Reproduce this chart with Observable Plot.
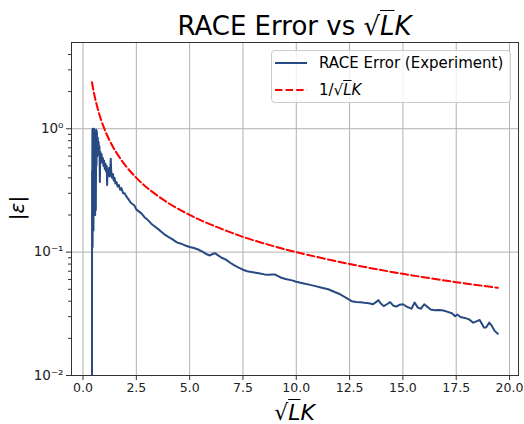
<!DOCTYPE html>
<html>
<head>
<meta charset="utf-8">
<script src="https://cdn.jsdelivr.net/npm/d3@7"></script>
<script src="https://cdn.jsdelivr.net/npm/@observablehq/plot@0.6"></script>
<style>
  body { margin: 0; background: white; font-family: "DejaVu Sans", sans-serif; }
  #wrap { position: relative; width: 524px; height: 424px; overflow: hidden; }
  .ab { position: absolute; }
  .ov { text-decoration: overline; text-decoration-thickness: 1px; }
  .it { font-style: italic; }
</style>
</head>
<body>
<div id="wrap">
  <div id="title" class="ab" style="left:71px;width:447px;top:13px;text-align:center;font-size:26px;line-height:26px;color:#000;">
    RACE Error vs √<span class="ov it">L</span><span class="it">K</span>
  </div>
  <div id="chart" class="ab" style="left:0;top:36px;"></div>
  <div id="xlabel" class="ab" style="left:71px;width:447px;top:402px;text-align:center;font-size:22px;line-height:22px;color:#000;">
    √<span class="ov it">L</span><span class="it">K</span>
  </div>
  <div id="ylabel" class="ab" style="left:17px;top:208px;font-size:20px;line-height:20px;white-space:nowrap;transform:translate(-50%,-50%) rotate(-90deg);color:#000;">|<span class="it">ε</span>|</div>
  <div id="legend" class="ab" style="left:271px;top:50px;width:240px;height:53px;box-sizing:border-box;background:rgba(255,255,255,0.8);border:1px solid #cccccc;border-radius:4px;">
    <svg class="ab" style="left:3px;top:0;" width="34" height="53">
      <line x1="0" x2="32" y1="12" y2="12" stroke="#284a82" stroke-width="2"></line>
      <line x1="0" x2="32" y1="39" y2="39" stroke="red" stroke-width="2" stroke-dasharray="7.4,3.2"></line>
    </svg>
    <div class="ab" style="left:47px;top:2px;font-size:15px;line-height:20px;white-space:nowrap;">RACE Error (Experiment)</div>
    <div class="ab" style="left:47px;top:29px;font-size:15px;line-height:20px;white-space:nowrap;">1/√<span class="ov it">L</span><span class="it">K</span></div>
  </div>
</div>
<script>
const blueX = [0.42,0.425,0.43,0.44,0.45,0.46,0.47,0.48,0.49,0.50,0.51,0.52,0.54,0.55,0.57,0.58,0.60,0.62,0.63,0.65,0.67,0.69,0.71,0.73,0.75,0.77,0.79,0.81,0.84,0.87,0.90,0.93,0.96,0.99,1.02,1.05,1.08,1.11,1.13,1.15,1.18,1.21,1.24,1.27,1.30,1.33,1.36,1.40,1.44,1.48,1.52,1.57,1.62,1.68,1.74,1.80,1.88,1.95,2.05,2.15,2.25,2.4,2.5,2.6,2.75,2.9,3.0,3.2,3.4,3.6,3.8,4.0,4.2,4.4,4.6,4.8,5.0,5.2,5.4,5.6,5.8,5.95,6.1,6.2,6.3,6.5,6.7,6.9,7.1,7.3,7.5,7.7,7.9,8.1,8.3,8.5,8.7,8.9,9.0,9.1,9.3,9.5,9.8,10.0,10.3,10.6,10.9,11.2,11.5,11.8,12.0,12.2,12.4,12.6,12.8,13.0,13.2,13.4,13.6,13.75,13.85,13.95,14.1,14.25,14.4,14.55,14.7,14.85,15.0,15.2,15.4,15.55,15.7,15.85,16.0,16.15,16.3,16.5,16.7,16.9,17.1,17.3,17.45,17.55,17.7,17.9,18.1,18.3,18.45,18.6,18.8,18.9,19.05,19.15,19.3,19.45];
const blueY = [0.002,0.45,0.12,0.98,0.11,1.0,0.35,0.97,0.15,0.99,0.6,1.0,0.45,0.95,0.2,0.9,0.22,0.98,0.5,0.95,0.6,0.85,0.7,0.78,0.62,0.72,0.37,0.65,0.58,0.62,0.53,0.58,0.5,0.55,0.47,0.52,0.45,0.5,0.35,0.46,0.42,0.48,0.41,0.44,0.57,0.42,0.40,0.43,0.38,0.40,0.36,0.37,0.34,0.35,0.32,0.33,0.30,0.30,0.28,0.265,0.25,0.24,0.222,0.215,0.205,0.19,0.185,0.17,0.16,0.15,0.14,0.133,0.127,0.12,0.117,0.113,0.11,0.108,0.105,0.101,0.096,0.094,0.097,0.098,0.095,0.09,0.087,0.082,0.078,0.075,0.072,0.070,0.069,0.068,0.067,0.066,0.0655,0.0658,0.066,0.0645,0.062,0.0605,0.059,0.0575,0.056,0.0545,0.053,0.0515,0.05,0.0475,0.046,0.044,0.042,0.040,0.0395,0.0392,0.0388,0.0385,0.0378,0.0395,0.0408,0.0385,0.0365,0.0378,0.0393,0.0368,0.0362,0.0375,0.0378,0.036,0.0348,0.039,0.0355,0.0348,0.0378,0.036,0.0342,0.0338,0.0340,0.0336,0.0328,0.0320,0.0302,0.0312,0.0298,0.0293,0.0285,0.0268,0.0275,0.0282,0.0245,0.0245,0.0268,0.0255,0.023,0.0218];
// Reference curve 1/sqrt(L)K
const redX = [0.42,0.5,0.6,0.7,0.8,1.0,1.25,1.5,2,2.5,3,4,5,6,7.5,9,10,12.5,15,17.5,19.45];
const redY = [2.38,2.0,1.67,1.43,1.25,1.0,0.8,0.667,0.5,0.4,0.333,0.25,0.2,0.167,0.133,0.111,0.1,0.08,0.0667,0.0571,0.0514];
// Ticks
const xTicks = [0,2.5,5,7.5,10,12.5,15,17.5,20];
const xTickLabels = ["0.0","2.5","5.0","7.5","10.0","12.5","15.0","17.5","20.0"];
const yMajor = [0.01,0.1,1];
const yMajorLabels = ["10⁻²","10⁻¹","10⁰"];
const yMinor = [0.02,0.03,0.04,0.05,0.06,0.07,0.08,0.09,0.2,0.3,0.4,0.5,0.6,0.7,0.8,0.9,2,3,4];

const blue = blueX.map((x,i) => ({x, y: blueY[i]}));
const red = redX.map((x,i) => ({x, y: redY[i]}));

const chart = Plot.plot({
  width: 524,
  height: 366,
  marginTop: 6,
  marginLeft: 71,
  marginRight: 6,
  marginBottom: 27,
  style: {fontFamily: "DejaVu Sans", fontSize: "12.5px", color: "#222", background: "white"},
  x: {domain: [-0.54, 20.42]},
  y: {type: "log", domain: [0.01, 5]},
  marks: [
    Plot.gridX(xTicks, {stroke: "#b0b0b0", strokeOpacity: 1, strokeWidth: 1}),
    Plot.gridY(yMajor, {stroke: "#b0b0b0", strokeOpacity: 1, strokeWidth: 1}),
    Plot.axisX({ticks: xTicks, tickFormat: d => xTickLabels[xTicks.indexOf(d)], tickSize: 5, tickPadding: 3, label: null, stroke: "#333"}),
    Plot.axisY({ticks: yMajor, tickFormat: d => yMajorLabels[yMajor.indexOf(d)], tickSize: 5, tickPadding: 3, label: null, stroke: "#333", fontSize: 13.5}),
    Plot.axisY({ticks: yMinor, tickFormat: () => "", tickSize: 3, label: null, stroke: "#333"}),
    Plot.line(blue, {x: "x", y: "y", stroke: "#284a82", strokeWidth: 2, clip: true}),
    Plot.line(red, {x: "x", y: "y", stroke: "red", strokeWidth: 2, strokeDasharray: "7.4,3.2", curve: "catmull-rom", clip: true}),
    Plot.frame({stroke: "#333", strokeWidth: 1})
  ]
});
document.getElementById("chart").appendChild(chart);
</script>
</body>
</html>
